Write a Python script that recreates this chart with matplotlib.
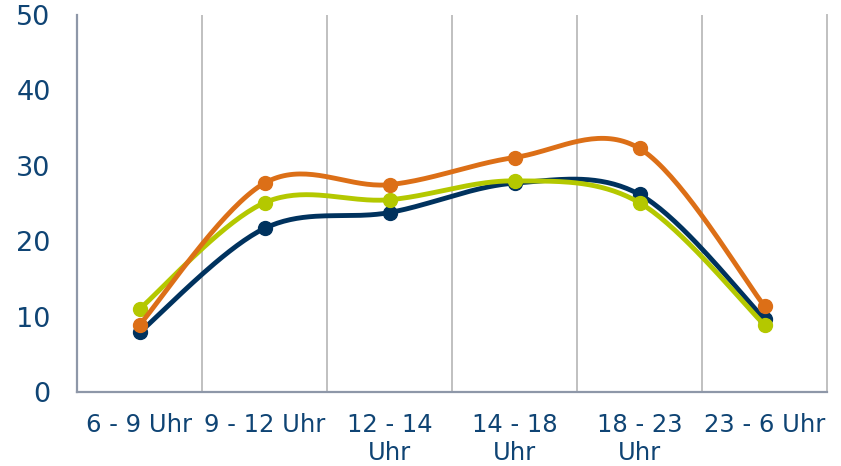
import numpy as np
import matplotlib
matplotlib.use("Agg")
import matplotlib.pyplot as plt
from matplotlib.ticker import MultipleLocator, FixedLocator

categories = ["6 - 9 Uhr", "9 - 12 Uhr", "12 - 14\nUhr", "14 - 18\nUhr", "18 - 23\nUhr", "23 - 6 Uhr"]
series_navy = [7.9, 21.7, 23.8, 27.7, 26.2, 9.7]
series_green = [11.0, 25.1, 25.5, 28.0, 25.1, 8.9]
series_orange = [8.9, 27.7, 27.5, 31.1, 32.3, 11.4]

colors = {"navy": "#00325e", "green": "#b4c800", "orange": "#dc6f17"}
text_color = "#0f4474"


def smooth(xs, ys, n=40):
    """Excel-like smoothing (Catmull-Rom / cubic Bezier through points)."""
    xs = np.asarray(xs, float)
    ys = np.asarray(ys, float)
    P = np.column_stack([xs, ys])
    m = len(P)
    out = []
    for i in range(m - 1):
        p0 = P[i - 1] if i > 0 else P[i]
        p1 = P[i]
        p2 = P[i + 1]
        p3 = P[i + 2] if i + 2 < m else P[i + 1]
        c1 = p1 + (p2 - p0) / 6.0
        c2 = p2 - (p3 - p1) / 6.0
        t = np.linspace(0, 1, n)[:, None]
        seg = ((1 - t) ** 3) * p1 + 3 * ((1 - t) ** 2) * t * c1 + 3 * (1 - t) * t ** 2 * c2 + t ** 3 * p2
        out.append(seg if i == 0 else seg[1:])
    out = np.vstack(out)
    return out[:, 0], out[:, 1]


fig = plt.figure(figsize=(8.41, 4.66), dpi=100)
ax = fig.add_axes([77 / 841, 74 / 466, 750 / 841, 377 / 466])

x = np.arange(len(categories))
for ys, key in [(series_navy, "navy"), (series_green, "green"), (series_orange, "orange")]:
    sx, sy = smooth(x, ys)
    ax.plot(sx, sy, color=colors[key], lw=3.5, solid_capstyle="round", zorder=3)
    ax.plot(x, ys, "o", color=colors[key], ms=10, zorder=3)

ax.set_xlim(-0.5, len(categories) - 0.5)
ax.set_ylim(0, 50)
ax.yaxis.set_major_locator(MultipleLocator(10))
ax.set_xticks(x)
ax.set_xticklabels(categories, fontsize=17.5, color=text_color, linespacing=1.22)
ax.xaxis.set_minor_locator(FixedLocator(np.arange(0.5, len(categories) - 0.5, 1.0)))
ax.grid(which="minor", axis="x", color="#c0c0c0", lw=1.4)
ax.grid(which="major", visible=False)
ax.tick_params(axis="x", which="both", length=0, pad=15)
ax.tick_params(axis="y", length=0, pad=19, labelsize=19.5, labelcolor=text_color)

for s in ["left", "bottom"]:
    ax.spines[s].set_color("#8e97a8")
    ax.spines[s].set_linewidth(1.6)
ax.spines["top"].set_visible(False)
ax.spines["right"].set_color("#c0c0c0")
ax.spines["right"].set_linewidth(1.4)

fig.savefig("out.png", dpi=100)
